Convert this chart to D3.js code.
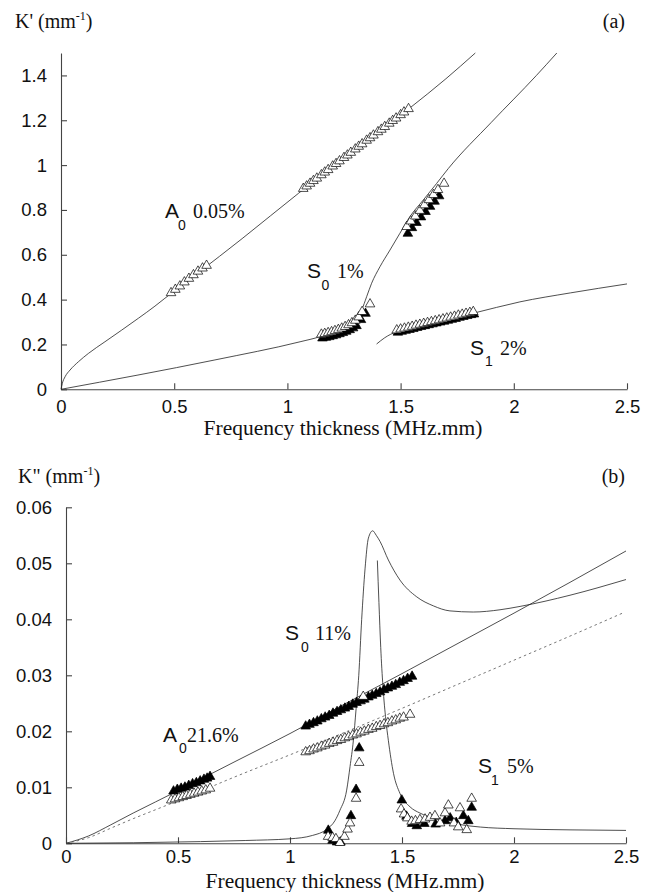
<!DOCTYPE html>
<html lang='en'>
<head>
  <meta charset='UTF-8'>
  <title>Lamb modes K' and K''</title>
  <style type='text/css'>
    body {
      margin: 0;
      background: #fff;
    }
    .tick text {
      font-family: 'Liberation Sans', Arial, Helvetica, sans-serif;
      font-size: 18.5px;
      fill: #111;
    }
    .axis path,
    .axis line {
      stroke: #444;
      stroke-width: 1.1px;
    }
    .curve {
      fill: none;
      stroke: #222;
      stroke-width: 0.8px;
    }
    .curve.dashed {
      stroke: #555;
      stroke-dasharray: 2.5,3;
    }
    .serif {
      font-family: 'Liberation Serif', 'Times New Roman', serif;
      fill: #111;
    }
    .sans {
      font-family: 'Liberation Sans', Arial, Helvetica, sans-serif;
      fill: #111;
    }
  </style>
  <script type='text/javascript' src='https://d3js.org/d3.v7.min.js'></script>
</head>
<body>
  <script type='text/javascript'>
    // ---- tick values
    const xTicks = [0, 0.5, 1, 1.5, 2, 2.5]
    const yTicksTop = [0, 0.2, 0.4, 0.6, 0.8, 1, 1.2, 1.4]
    const yTicksBottom = [0, 0.01, 0.02, 0.03, 0.04, 0.05, 0.06]

    // ---- (a) K' curves, [fd, K']
    const a0RealCurve = [
      [0, 0], [0.006, 0.027], [0.018, 0.056], [0.04, 0.086], [0.077, 0.123],
      [0.121, 0.16], [0.194, 0.212], [0.268, 0.264], [0.342, 0.317], [0.415, 0.371],
      [0.459, 0.406], [0.6, 0.515], [0.8, 0.672], [1.05, 0.875], [1.3, 1.07],
      [1.54, 1.254], [1.7, 1.385], [1.83, 1.5]
    ]
    const s0RealCurve = [
      [0, 0], [0.68, 0.131], [1.056, 0.212], [1.144, 0.235], [1.232, 0.272],
      [1.299, 0.316], [1.328, 0.354], [1.35, 0.413], [1.372, 0.473], [1.409, 0.547],
      [1.453, 0.621], [1.497, 0.696], [1.541, 0.77], [1.6, 0.844], [1.659, 0.918],
      [1.711, 0.985], [1.9, 1.19], [2.1, 1.4], [2.19, 1.5]
    ]
    const s1RealCurve = [
      [1.394, 0.202], [1.43, 0.23], [1.483, 0.258], [1.6, 0.287], [1.82, 0.339],
      [2.027, 0.39], [2.25, 0.43], [2.5, 0.47]
    ]

    // ---- (a) measured points
    const a0RealOpen = [
      [0.486, 0.43], [0.505, 0.445], [0.525, 0.46], [0.545, 0.478], [0.565, 0.494],
      [0.585, 0.51], [0.605, 0.526], [0.625, 0.54], [0.643, 0.552],
      [1.07, 0.895], [1.085, 0.906], [1.1, 0.918], [1.115, 0.93], [1.13, 0.941],
      [1.15, 0.956], [1.165, 0.968], [1.18, 0.979], [1.2, 0.995], [1.215, 1.006],
      [1.23, 1.018], [1.25, 1.033], [1.265, 1.044], [1.28, 1.056], [1.3, 1.071],
      [1.315, 1.083], [1.33, 1.094], [1.35, 1.11], [1.365, 1.121], [1.38, 1.133],
      [1.4, 1.148], [1.415, 1.159], [1.43, 1.171], [1.45, 1.186], [1.465, 1.198],
      [1.48, 1.209], [1.5, 1.224], [1.515, 1.236], [1.535, 1.251]
    ]
    const s0RealFilled = [
      [1.155, 0.228], [1.17, 0.231], [1.185, 0.234], [1.2, 0.238], [1.215, 0.242],
      [1.23, 0.247], [1.245, 0.252], [1.26, 0.258], [1.275, 0.265], [1.29, 0.273],
      [1.305, 0.283], [1.325, 0.31], [1.345, 0.338],
      [1.532, 0.695], [1.55, 0.72], [1.57, 0.743], [1.59, 0.768], [1.61, 0.792],
      [1.63, 0.815], [1.65, 0.838], [1.67, 0.862]
    ]
    const s0RealOpen = [
      [1.15, 0.245], [1.165, 0.248], [1.18, 0.252], [1.195, 0.256], [1.21, 0.261],
      [1.225, 0.266], [1.24, 0.272], [1.255, 0.279], [1.27, 0.287], [1.285, 0.296],
      [1.3, 0.307], [1.315, 0.322], [1.33, 0.346], [1.365, 0.38],
      [1.527, 0.725], [1.545, 0.75], [1.565, 0.772], [1.585, 0.797], [1.605, 0.822],
      [1.625, 0.845], [1.645, 0.868], [1.665, 0.89], [1.692, 0.918]
    ]
    const s1RealFilled = [
      [1.488, 0.254], [1.505, 0.258], [1.522, 0.262], [1.539, 0.266], [1.556, 0.27],
      [1.573, 0.275], [1.59, 0.279], [1.607, 0.283], [1.624, 0.287], [1.641, 0.291],
      [1.658, 0.295], [1.675, 0.299], [1.692, 0.303], [1.709, 0.307], [1.726, 0.311],
      [1.743, 0.315], [1.76, 0.32], [1.777, 0.324], [1.794, 0.328], [1.811, 0.332],
      [1.824, 0.335]
    ]
    const s1RealOpen = [
      [1.483, 0.264], [1.5, 0.268], [1.517, 0.272], [1.534, 0.276], [1.551, 0.28],
      [1.568, 0.285], [1.585, 0.289], [1.602, 0.293], [1.619, 0.297], [1.636, 0.301],
      [1.653, 0.305], [1.67, 0.309], [1.687, 0.313], [1.704, 0.317], [1.721, 0.321],
      [1.738, 0.325], [1.755, 0.33], [1.772, 0.334], [1.789, 0.338], [1.806, 0.342],
      [1.821, 0.346]
    ]

    // ---- (b) K'' curves, [fd, K'']
    const a0ImagCurve = [
      [0, 0], [0.1, 0.0013], [0.2, 0.0033], [0.3, 0.0054], [0.4, 0.0074],
      [0.5, 0.0094], [0.75, 0.0145], [1, 0.0196], [1.25, 0.025], [1.5, 0.0303],
      [1.75, 0.0357], [2, 0.0411], [2.25, 0.0466], [2.5, 0.0522]
    ]
    const a0ImagDashed = [
      [0, 0], [0.1, 0.001], [0.2, 0.0027], [0.3, 0.0044], [0.4, 0.006],
      [0.5, 0.0076], [0.75, 0.0118], [1, 0.0158], [1.25, 0.0199], [1.5, 0.0241],
      [1.75, 0.0284], [2, 0.0327], [2.25, 0.037], [2.49, 0.0412]
    ]
    const s0ImagCurve = [
      [0, 0], [0.3, 0.0001], [0.6, 0.0003], [0.8, 0.0005], [1, 0.0008],
      [1.1, 0.0014], [1.164, 0.0025], [1.2, 0.004], [1.223, 0.0059], [1.253, 0.0095],
      [1.268, 0.0137], [1.283, 0.0184], [1.295, 0.024], [1.307, 0.03], [1.32, 0.04],
      [1.335, 0.049], [1.35, 0.0545], [1.369, 0.0558], [1.385, 0.055], [1.402, 0.0539],
      [1.439, 0.0506], [1.491, 0.047], [1.566, 0.044], [1.64, 0.0424], [1.714, 0.0415],
      [1.818, 0.0413], [1.9375, 0.0417], [2.027, 0.0423], [2.25, 0.0443], [2.5, 0.0471]
    ]
    const s1ImagCurve = [
      [1.39, 0.0505], [1.397, 0.043], [1.405, 0.035], [1.415, 0.028], [1.428, 0.022],
      [1.439, 0.0184], [1.462, 0.0125], [1.491, 0.0089], [1.536, 0.0065], [1.58, 0.0054],
      [1.64, 0.0045], [1.75, 0.0034], [1.85, 0.0029], [2, 0.0026], [2.25, 0.0024],
      [2.5, 0.0023]
    ]

    // ---- (b) measured points
    const imagFilled = [
      [0.48, 0.0093], [0.497, 0.0096], [0.514, 0.0098], [0.531, 0.01], [0.548, 0.0103],
      [0.565, 0.0106], [0.582, 0.0108], [0.599, 0.0111], [0.616, 0.0114], [0.63, 0.0116],
      [0.643, 0.0119],
      [1.07, 0.0209], [1.087, 0.0212], [1.105, 0.0215], [1.122, 0.0218], [1.14, 0.0222],
      [1.157, 0.0225], [1.175, 0.0228], [1.192, 0.0232], [1.21, 0.0235], [1.227, 0.0238],
      [1.245, 0.0241], [1.262, 0.0244], [1.28, 0.0248], [1.297, 0.0251], [1.315, 0.0254],
      [1.332, 0.0257], [1.35, 0.0261], [1.367, 0.0264], [1.385, 0.0267], [1.402, 0.027],
      [1.42, 0.0274], [1.437, 0.0277], [1.455, 0.028], [1.472, 0.0283], [1.49, 0.0287],
      [1.507, 0.029], [1.525, 0.0294], [1.545, 0.0298],
      [1.171, 0.0023], [1.19, 0.0005], [1.21, 0.0002], [1.225, 0.0002], [1.272, 0.0049],
      [1.295, 0.0096], [1.309, 0.017], [1.499, 0.0077], [1.52, 0.0048], [1.545, 0.0035],
      [1.566, 0.0031], [1.6, 0.0035], [1.65, 0.0034], [1.692, 0.004], [1.715, 0.0045],
      [1.742, 0.0037], [1.774, 0.0049], [1.796, 0.004], [1.811, 0.0064]
    ]
    const imagOpen = [
      [0.47, 0.0077], [0.487, 0.0079], [0.504, 0.0081], [0.521, 0.0083], [0.538, 0.0085],
      [0.555, 0.0087], [0.572, 0.0089], [0.589, 0.0091], [0.606, 0.0093], [0.624, 0.0095],
      [0.643, 0.0098],
      [1.07, 0.0163], [1.087, 0.0165], [1.105, 0.0168], [1.122, 0.017], [1.14, 0.0173],
      [1.157, 0.0175], [1.175, 0.0178], [1.192, 0.018], [1.21, 0.0183], [1.227, 0.0185],
      [1.245, 0.0188], [1.262, 0.019], [1.28, 0.0193], [1.297, 0.0195], [1.315, 0.0198],
      [1.332, 0.02], [1.35, 0.0203], [1.367, 0.0205], [1.385, 0.0208], [1.402, 0.021],
      [1.42, 0.0213], [1.437, 0.0215], [1.455, 0.0218], [1.472, 0.022], [1.49, 0.0223],
      [1.507, 0.0225], [1.536, 0.023], [1.327, 0.0262],
      [1.17, 0.0012], [1.19, 0.001], [1.205, 0.0008], [1.223, 0.0001], [1.243, 0.0012],
      [1.257, 0.0025], [1.268, 0.0036], [1.295, 0.008], [1.309, 0.0144], [1.496, 0.0061],
      [1.509, 0.0052], [1.524, 0.0045], [1.543, 0.0039], [1.56, 0.004], [1.58, 0.0042],
      [1.603, 0.0043], [1.625, 0.0046], [1.647, 0.0049], [1.67, 0.0036], [1.692, 0.0054],
      [1.707, 0.0068], [1.732, 0.0036], [1.751, 0.0029], [1.759, 0.0063], [1.789, 0.0024],
      [1.811, 0.008]
    ]

    // ---- mode labels: [letter, index, rest, fd, K]
    const labelsTop = [
      ['A', '0', '0.05%', 0.459, 0.764],
      ['S', '0', '1%', 1.087, 0.496],
      ['S', '1', '2%', 1.807, 0.153]
    ]
    const labelsBottom = [
      ['S', '0', '11%', 0.978, 0.0363],
      ['A', '0', '21.6%', 0.433, 0.0181],
      ['S', '1', '5%', 1.839, 0.01255]
    ]

    const width = 655
    const height = 892

    const svg = d3.select('body').append('svg')
      .attr('width', width)
      .attr('height', height)

    const xTop = d3.scaleLinear().domain([0, 2.5]).range([61, 627])
    const yTop = d3.scaleLinear().domain([0, 1.5]).range([389.3, 53])
    const xBot = d3.scaleLinear().domain([0, 2.5]).range([66, 626])
    const yBot = d3.scaleLinear().domain([0, 0.06]).range([843.3, 507.3])

    const fmt = d => d === 0 ? '0' : String(+d.toFixed(2))
    const tri = d3.symbol().type(d3.symbolTriangle).size(40)

    const drawPanel = (x, y, yTicks, xPad, curves, dashed, filled, open, labels, offsets) => {
      const g = svg.append('g')

      g.append('g')
        .attr('class', 'axis')
        .attr('transform', `translate(0,${y(0)})`)
        .call(d3.axisBottom(x).tickValues(xTicks).tickFormat(fmt)
          .tickSizeInner(-6).tickSizeOuter(0).tickPadding(xPad))

      g.append('g')
        .attr('class', 'axis')
        .attr('transform', `translate(${x(0)},0)`)
        .call(d3.axisLeft(y).tickValues(yTicks).tickFormat(fmt)
          .tickSizeInner(-6).tickSizeOuter(0).tickPadding(14))

      const line = d3.line()
        .x(d => x(d[0]))
        .y(d => y(d[1]))
        .curve(d3.curveMonotoneX)

      curves.forEach(c => {
        g.append('path').attr('class', 'curve').attr('d', line(c))
      })
      dashed.forEach(c => {
        g.append('path').attr('class', 'curve dashed').attr('d', line(c))
      })

      g.selectAll('.filled')
        .data(filled)
        .enter().append('path')
        .attr('class', 'filled')
        .attr('d', tri)
        .attr('transform', d => `translate(${x(d[0])},${y(d[1])})`)
        .style('fill', '#000')
        .style('stroke', '#000')
        .style('stroke-width', 0.7)

      g.selectAll('.open')
        .data(open)
        .enter().append('path')
        .attr('class', 'open')
        .attr('d', tri)
        .attr('transform', d => `translate(${x(d[0])},${y(d[1])})`)
        .style('fill', '#fff')
        .style('stroke', '#000')
        .style('stroke-width', 0.7)

      labels.forEach((l, i) => {
        const lx = x(l[3])
        const ly = y(l[4])
        const t = g.append('text').attr('x', lx).attr('y', ly)
        t.append('tspan').attr('class', 'sans').style('font-size', '21px').text(l[0])
        t.append('tspan').attr('class', 'sans').style('font-size', '14px')
          .attr('x', lx + offsets[i][0]).attr('y', ly + 11.5).text(l[1])
        t.append('tspan').attr('class', 'serif').style('font-size', '20px')
          .attr('x', lx + offsets[i][1]).attr('y', ly).text(l[2])
      })
      return g
    }

    drawPanel(xTop, yTop, yTicksTop, 10.5,
      [a0RealCurve, s0RealCurve, s1RealCurve], [],
      s0RealFilled.concat(s1RealFilled),
      a0RealOpen.concat(s0RealOpen, s1RealOpen),
      labelsTop, [[13, 28], [14.5, 30], [15, 30]])

    drawPanel(xBot, yBot, yTicksBottom, 7,
      [a0ImagCurve, s0ImagCurve, s1ImagCurve], [a0ImagDashed],
      imagFilled, imagOpen,
      labelsBottom, [[16, 30], [16, 24], [13, 29]])

    // ---- axis titles
    const yTitle = (px, py, prime) => {
      const t = svg.append('text').attr('class', 'serif')
        .attr('x', px).attr('y', py).style('font-size', '20px')
      t.append('tspan').text(`K${prime} (mm`)
      t.append('tspan').style('font-size', '12px').attr('dy', -8).text('-1')
      t.append('tspan').attr('dy', 8).text(')')
    }
    yTitle(15, 28, "'")
    yTitle(18, 483, '"')

    svg.append('text').attr('class', 'serif')
      .attr('x', 625).attr('y', 28).attr('text-anchor', 'end')
      .style('font-size', '20px').text('(a)')
    svg.append('text').attr('class', 'serif')
      .attr('x', 625).attr('y', 483).attr('text-anchor', 'end')
      .style('font-size', '20px').text('(b)')

    svg.append('text').attr('class', 'serif')
      .attr('x', 343).attr('y', 435).attr('text-anchor', 'middle')
      .style('font-size', '21.5px').text('Frequency thickness (MHz.mm)')
    svg.append('text').attr('class', 'serif')
      .attr('x', 345).attr('y', 888).attr('text-anchor', 'middle')
      .style('font-size', '21.5px').text('Frequency thickness (MHz.mm)')
  </script>
</body>
</html>
